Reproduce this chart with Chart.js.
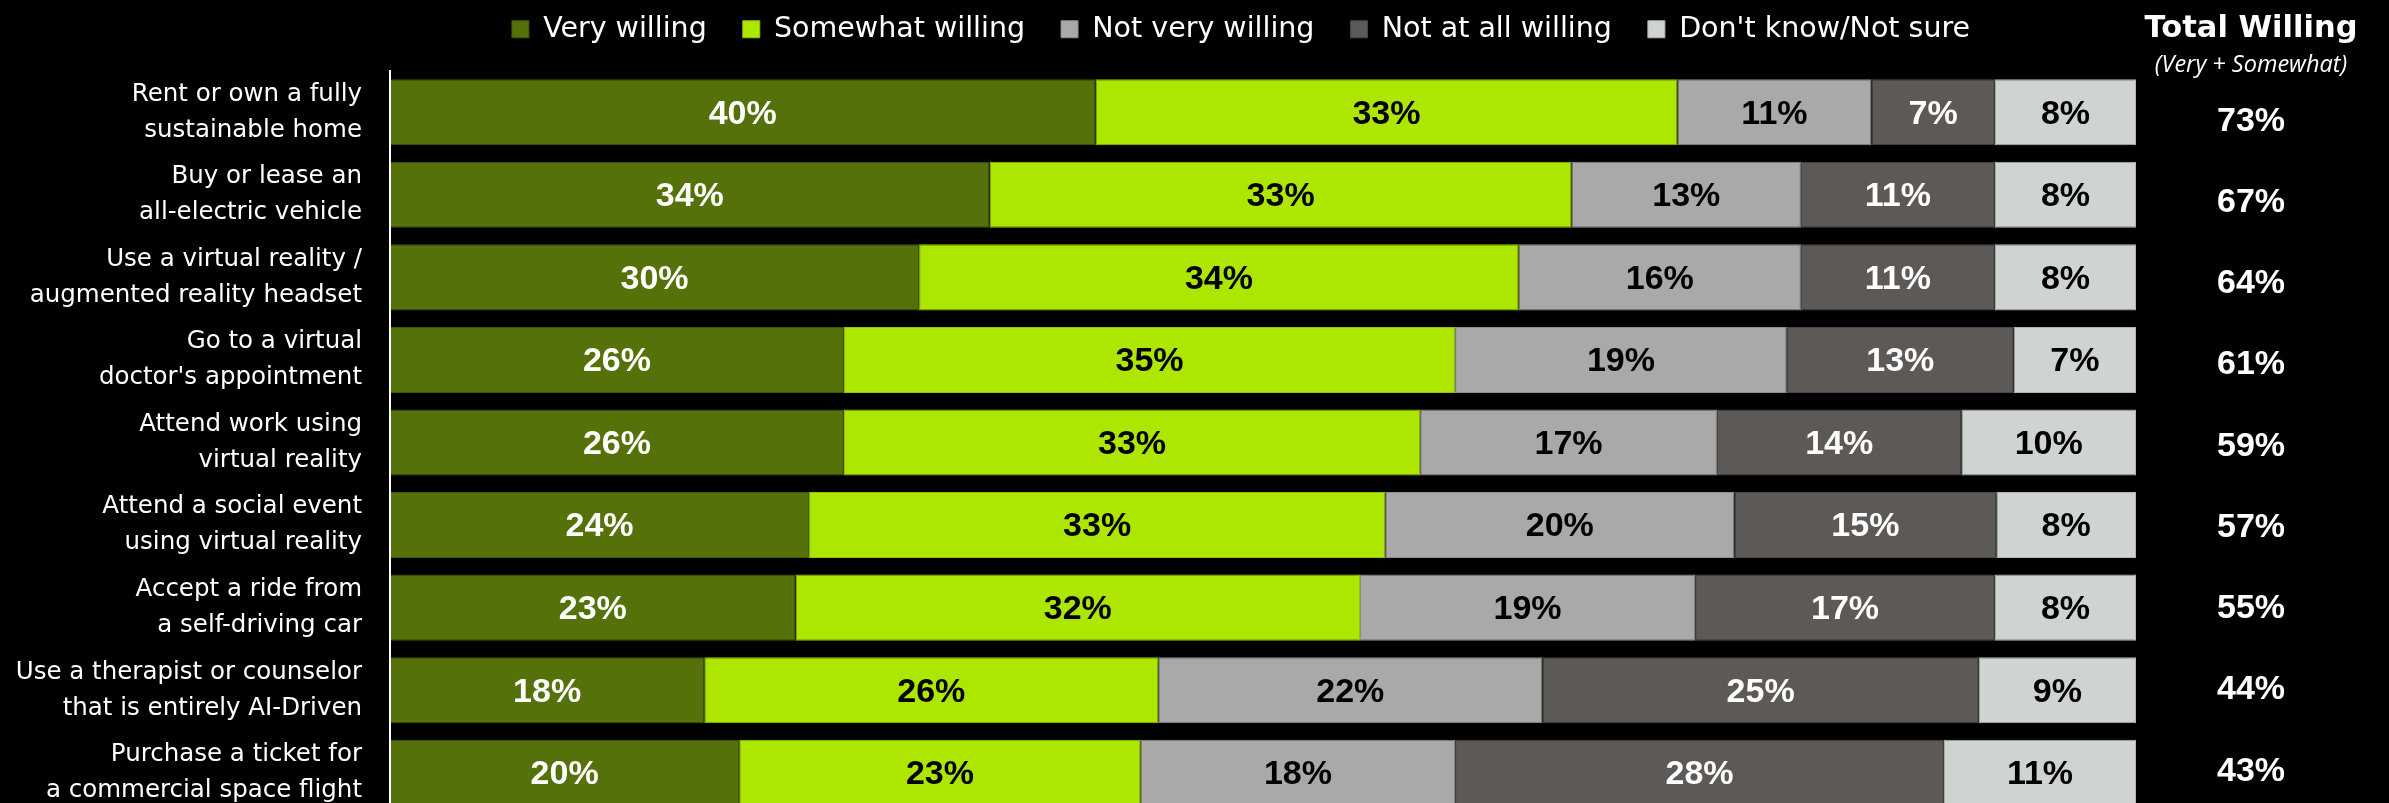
<!DOCTYPE html>
<html>
<head>
<meta charset="utf-8">
<script src="https://cdn.jsdelivr.net/npm/chart.js@4.4.1/dist/chart.umd.min.js"></script>
<style>
  html, body { margin: 0; padding: 0; background: #000; overflow: hidden; }
  #wrap { position: relative; width: 2389px; height: 814px; }
</style>
</head>
<body>
<div id="wrap"><canvas id="chart"></canvas></div>
<script>
// categories (two lines each, like the original slide)
const categories = [
    ['Rent or own a fully', 'sustainable home'],
    ['Buy or lease an', 'all-electric vehicle'],
    ['Use a virtual reality /', 'augmented reality headset'],
    ['Go to a virtual', "doctor's appointment"],
    ['Attend work using', 'virtual reality'],
    ['Attend a social event', 'using virtual reality'],
    ['Accept a ride from', 'a self-driving car'],
    ['Use a therapist or counselor', 'that is entirely AI-Driven'],
    ['Purchase a ticket for', 'a commercial space flight']
];

const veryWilling     = [40, 34, 30, 26, 26, 24, 23, 18, 20];
const somewhatWilling = [33, 33, 34, 35, 33, 33, 32, 26, 23];
const notVeryWilling  = [11, 13, 16, 19, 17, 20, 19, 22, 18];
const notAtAllWilling = [7, 11, 11, 13, 14, 15, 17, 25, 28];
const dontKnow        = [8, 8, 8, 7, 10, 8, 8, 9, 11];
const totalWilling    = [73, 67, 64, 61, 59, 57, 55, 44, 43];

const seriesNames  = ['Very willing', 'Somewhat willing', 'Not very willing', 'Not at all willing', "Don't know/Not sure"];
const seriesValues = [veryWilling, somewhatWilling, notVeryWilling, notAtAllWilling, dontKnow];
const seriesColors = ['#55710a', '#ade600', '#a9a9a9', '#5d5956', '#d0d4d1'];
const seriesBorders = ['#43590a', '#94c400', '#8e8e8e', '#4a4744', '#b0b5b1'];
const labelColors  = ['#fff', '#000', '#000', '#fff', '#000'];

// rows add up to 99 or 100 (rounding), bars are drawn as share of the row
const rowSums = categories.map((c, j) => seriesValues.reduce((s, arr) => s + arr[j], 0));

// % numbers inside the bar segments
const segmentLabels = {
    id: 'segmentLabels',
    afterDatasetsDraw(chart) {
        const ctx = chart.ctx;
        ctx.save();
        ctx.font = 'bold 34px "Liberation Sans", Arial, sans-serif';
        ctx.textAlign = 'center';
        ctx.textBaseline = 'middle';
        chart.data.datasets.forEach((ds, i) => {
            chart.getDatasetMeta(i).data.forEach((bar, j) => {
                ctx.fillStyle = labelColors[i];
                ctx.fillText(seriesValues[i][j] + '%', (bar.x + bar.base) / 2, bar.y + 2);
            });
        });
        ctx.restore();
    }
};

// "Total Willing" header + moving the legend where the slide has it
const totalHeader = {
    id: 'totalHeader',
    afterLayout(chart) {
        const lg = chart.legend;
        const w = lg.right - lg.left;
        lg.left = 1241 - w / 2;
        lg.right = 1241 + w / 2;
        lg.top = -21;
    },
    afterDraw(chart) {
        const ctx = chart.ctx;
        const x = chart.chartArea.right + 115;
        ctx.save();
        ctx.fillStyle = '#fff';
        ctx.textAlign = 'center';
        ctx.textBaseline = 'alphabetic';
        ctx.font = 'bold 30.5px "DejaVu Sans", sans-serif';
        ctx.fillText('Total Willing', x, 37);
        ctx.font = 'italic 23.5px "Open Sans", sans-serif';
        ctx.fillText('(Very + Somewhat)', x, 72);
        ctx.restore();
    }
};

new Chart(document.getElementById('chart'), {
    type: 'bar',
    data: {
        labels: categories,
        datasets: seriesNames.map((name, i) => ({
            label: name,
            data: seriesValues[i].map((v, j) => v / rowSums[j] * 100),
            backgroundColor: seriesColors[i],
            borderColor: seriesBorders[i],
            borderWidth: 1,
            borderSkipped: false,
            categoryPercentage: 0.8,
            barPercentage: 1
        }))
    },
    options: {
        indexAxis: 'y',
        responsive: true,
        maintainAspectRatio: false,
        animation: false,
        layout: { padding: 0 },
        scales: {
            x: { stacked: true, min: 0, max: 100, display: false },
            y: {
                stacked: true,
                grid: { display: false, drawTicks: false },
                border: { display: true, color: '#fff', width: 2, z: 1 },
                ticks: {
                    color: '#fff',
                    padding: 28,
                    font: { family: '"DejaVu Sans", sans-serif', size: 24.5, lineHeight: 1.47 }
                },
                afterFit(s) { s.width = 390; s.paddingTop = 0; s.paddingBottom = 0; }
            },
            // totals column: row index 0..8 on its own axis, the slide spaces them a bit tighter than the bars
            y2: {
                type: 'linear',
                position: 'right',
                reverse: true,
                offset: false,
                bounds: 'data',
                min: -0.622,
                max: 8.528,
                grid: { display: false, drawTicks: false },
                border: { display: false },
                afterBuildTicks(s) { s.ticks = totalWilling.map((t, i) => ({ value: i })); },
                ticks: {
                    color: '#fff',
                    padding: 81,
                    crossAlign: 'center',
                    font: { family: '"Liberation Sans", Arial, sans-serif', size: 34, weight: 'bold' },
                    callback: (v, i) => totalWilling[i] + '%'
                },
                afterFit(s) { s.width = 253; s.paddingTop = 0; s.paddingBottom = 0; }
            }
        },
        plugins: {
            legend: {
                position: 'top',
                maxHeight: 71,
                labels: {
                    color: '#fff',
                    boxWidth: 17,
                    boxHeight: 17,
                    padding: 36,
                    font: { family: '"DejaVu Sans", sans-serif', size: 28.5 }
                }
            },
            tooltip: { enabled: false }
        }
    },
    plugins: [segmentLabels, totalHeader]
});
</script>
</body>
</html>
